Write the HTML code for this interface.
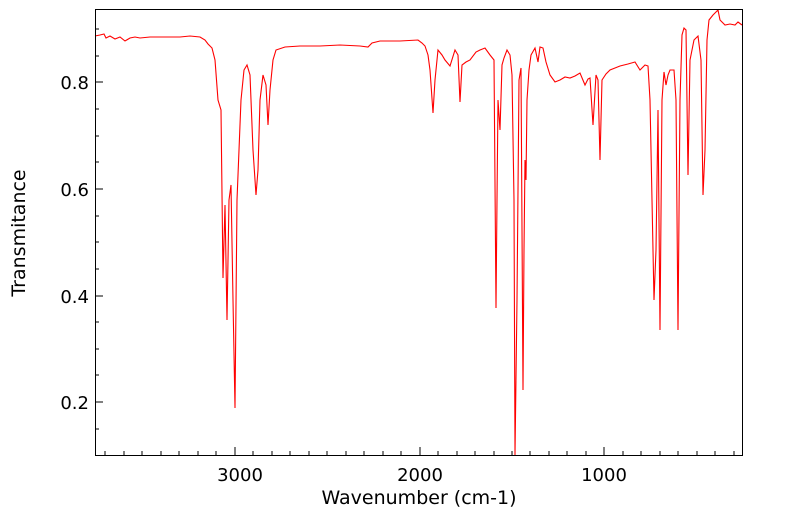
<!DOCTYPE html><html><head><meta charset="utf-8"><style>body{margin:0;background:#fff}</style></head><body>
<svg width="799" height="516" xmlns="http://www.w3.org/2000/svg" font-family="DejaVu Sans, sans-serif">
<rect width="799" height="516" fill="#fff"/>
<polyline fill="none" stroke="#ff0000" stroke-width="1.1" points="95,36 100,35 104,34 106,38 110,36 115,39 120,37 125,41 130,38 135,37 140,38 150,37 160,37 170,37 180,37 190,36 200,37 205,40 208,44 212,48 215,60 218,100 221,110 223,278 225,205 227,320 229,200 231,185 233,300 235,408 237,200 239,150 241,100 244,70 247,65 250,75 253,150 256,195 258,170 260,100 263,75 266,85 268,125 270,90 273,60 276,50 285,47 300,46 320,46 340,45 360,46 368,47 372,43 380,41 400,41 418,40 422,43 425,46 428,55 430,70 433,113 435,80 438,50 442,55 445,60 450,66 455,50 458,55 460,102 462,65 466,62 470,60 476,52 480,50 485,48 490,55 494,60 496,308 497,200 498,100 500,130 502,65 504,58 507,50 510,55 512,75 514,200 515,455 517,300 519,80 521,68 523,390 524,250 525,160 526,180 527,100 529,70 531,55 535,48 538,62 540,47 543,48 546,62 550,75 555,82 560,80 565,77 570,78 575,76 580,73 585,85 588,79 590,78 593,125 596,75 598,80 600,160 602,80 606,74 610,70 615,68 620,66 628,64 635,62 640,70 645,65 648,66 650,100 652,200 654,300 656,250 658,110 660,330 662,100 664,72 666,85 668,75 670,70 674,70 676,100 678,330 680,100 682,35 684,28 686,30 688,175 690,60 694,40 698,36 701,60 703,195 705,150 707,40 709,20 713,15 716,12 718,10 720,20 725,25 730,24 735,25 738,22 742,25"/>
<rect x="95.5" y="9.5" width="647" height="446" fill="none" stroke="#000" stroke-width="1"/>
<g stroke="#000" stroke-width="1">
<line x1="235" y1="455" x2="235" y2="447"/><line x1="420" y1="455" x2="420" y2="447"/><line x1="604" y1="455" x2="604" y2="447"/>
<path d="M105,455v-4M124,455v-4M142,455v-4M161,455v-4M179,455v-4M198,455v-4M216,455v-4M253,455v-4M272,455v-4M290,455v-4M309,455v-4M327,455v-4M346,455v-4M364,455v-4M383,455v-4M401,455v-4M438,455v-4M457,455v-4M475,455v-4M494,455v-4M512,455v-4M530,455v-4M549,455v-4M567,455v-4M586,455v-4M623,455v-4M641,455v-4M660,455v-4M678,455v-4M697,455v-4M715,455v-4M734,455v-4"/>
<path d="M95,402h8M95,296h8M95,189h8M95,82h8"/>
<path d="M95,429h4M95,375h4M95,349h4M95,322h4M95,269h4M95,242h4M95,216h4M95,162h4M95,136h4M95,109h4M95,56h4M95,29h4"/>
</g>
<g font-size="18" fill="#000">
<text x="240" y="481" text-anchor="middle">3000</text>
<text x="420" y="481" text-anchor="middle">2000</text>
<text x="604" y="481" text-anchor="middle">1000</text>
<text x="89" y="409" text-anchor="end">0.2</text>
<text x="89" y="303" text-anchor="end">0.4</text>
<text x="89" y="196" text-anchor="end">0.6</text>
<text x="89" y="89" text-anchor="end">0.8</text>
</g>
<g font-size="19" fill="#000">
<text x="419" y="504" text-anchor="middle">Wavenumber (cm-1)</text>
<text transform="translate(25,233) rotate(-90)" text-anchor="middle">Transmitance</text>
</g>
</svg></body></html>
